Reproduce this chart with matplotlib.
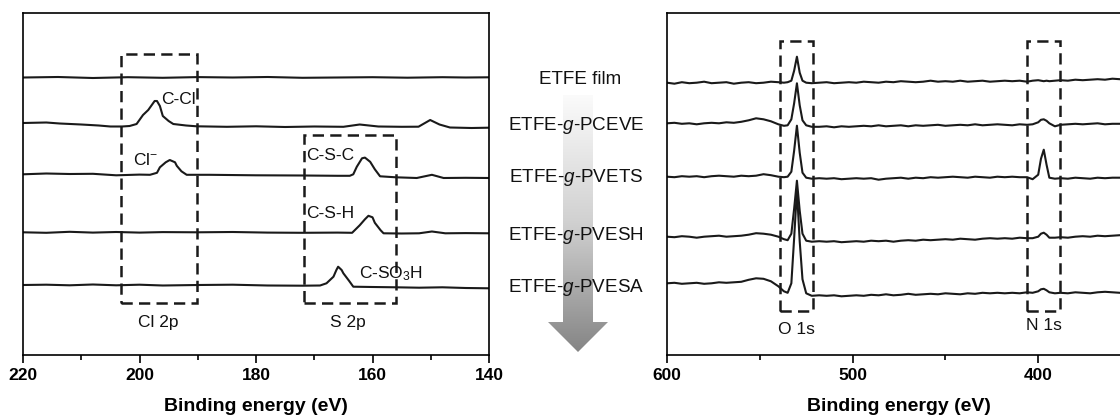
import numpy as np
import matplotlib.pyplot as plt
from matplotlib.patches import Polygon, Rectangle
from matplotlib.colors import LinearSegmentedColormap
from matplotlib.ticker import MultipleLocator

plt.rcParams['font.family'] = ['Liberation Sans', 'DejaVu Sans']
plt.rcParams['mathtext.fontset'] = 'custom'
plt.rcParams['mathtext.rm'] = 'Liberation Sans'
plt.rcParams['mathtext.it'] = 'Liberation Sans:italic'
plt.rcParams['mathtext.bf'] = 'Liberation Sans:bold'

# sample names (top to bottom)
samples = ['ETFE film', r'ETFE-$\mathit{g}$-PCEVE', r'ETFE-$\mathit{g}$-PVETS',
           r'ETFE-$\mathit{g}$-PVESH', r'ETFE-$\mathit{g}$-PVESA']

# ---- Cl 2p / S 2p region (left panel), stacked intensity (a.u.) ----
offsets_left = [277.5, 232, 180.7, 122.7, 70]

e_film = [220, 214, 208, 202, 196, 190, 184, 178, 172, 166, 160, 154, 148, 144, 140]
i_film = [0, 0.5, -0.5, 0.3, -0.3, 0.4, 0, 0.5, -0.3, 0, 0.3, -0.2, 0.3, 0, 0.2]

e_pceve = [220, 216, 213.7, 210, 207, 205, 203, 201.7, 200.5, 199.4, 198.5, 197.4, 197,
           196.5, 196, 195, 194.2, 192, 190.2, 185, 180, 175, 170, 165, 162.2, 159,
           155, 152.1, 150.1, 148.5, 146.7, 143, 140]
i_pceve = [0, 0.5, -0.5, -1.5, -2.5, -3.5, -3.5, -3, -1, 8, 13, 22, 22,
           17, 7, 2, -1, -2.5, -3.3, -3.8, -3.3, -4, -3.5, -3.8, -1.5, -3.5,
           -3.8, -3.7, 3, -1.5, -4.5, -5, -4.7]

e_pvets = [220, 216, 212, 208, 204, 200, 198.2, 197, 196.5, 195.5, 194.8, 193.9, 193.6,
           192.8, 191.9, 188, 180, 172, 166, 163.9, 163.3, 162.7, 161.8, 161.3, 160.4,
           159.6, 158.7, 156, 152.4, 149.8, 147.8, 144, 140]
i_pvets = [0, 0.8, 0.3, 0.5, -1, -0.3, -0.5, 1.5, 7, 12, 14.3, 12, 8.5,
           3, -0.5, -0.5, -1, -1.2, -1.5, -1.5, 0, 7.5, 16, 16.7, 12.5,
           5, -2, -3, -3.7, -0.5, -3.7, -3.5, -3.7]

e_pvesh = [220, 216, 212, 208, 204, 200, 196, 190, 184, 178, 172, 166, 163.5, 162.2,
           161.3, 160.7, 160, 159.6, 158.6, 158.1, 155, 152, 149.8, 147.5, 144, 140]
i_pvesh = [0, -0.5, 0.5, -0.3, 0.3, -0.3, 0.2, 0, 0.3, -0.3, -0.5, -0.3, -0.5, 7,
           13, 16.5, 15, 9.5, 2, -1, -1.2, -1, 0.8, -1, -0.8, -1]

e_pvesa = [220, 216, 212, 208, 204, 200, 196, 190, 184, 178, 172, 169, 167.9, 166.7,
           166.2, 165.9, 165.3, 165, 164, 163.3, 160, 156, 152, 148, 144, 140]
i_pvesa = [0, 0.3, -0.3, 0.5, -0.3, 0.3, -0.5, 0, 0.3, -0.5, -0.7, -0.5, 1.7, 8.3,
           15, 18.3, 15, 11.7, 4, -1.7, -2, -2.3, -2.7, -2.3, -3, -3.3]

left_e = [e_film, e_pceve, e_pvets, e_pvesh, e_pvesa]
left_i = [i_film, i_pceve, i_pvets, i_pvesh, i_pvesa]

# ---- O 1s / N 1s region (right panel) ----
offsets_right = [272.3, 231.7, 178.3, 118.3, 71.7]

e_right = [600, 596, 592, 588, 584, 580, 576, 572, 568, 564,
           560, 556, 552, 548, 544, 540, 537, 535, 533, 531.5,
           530, 528.5, 527, 525, 522, 518, 514, 510, 506, 502,
           498, 494, 490, 486, 482, 478, 474, 470, 466, 462,
           458, 454, 450, 446, 442, 438, 434, 430, 426, 422,
           418, 414, 410, 406, 403, 400, 398.5, 397, 395.5, 394,
           391, 388, 384, 380, 376, 372, 368, 364, 360, 356]

r_film = [0, -1, 0.5, -0.5, 0, 1, -0.5, 0, 0.5, -1,
          0, 0.5, -0.5, 0, 1, 0.5, 0, 0.5, 2, 12,
          26, 10, 2, 0, -0.5, 0, 0.5, -0.5, 0, 0.5,
          0, 1, 0.5, 0, 1, 0.5, 1.5, 1, 0.5, 1,
          2, 1, 1.5, 1, 2, 1, 1.5, 2, 1, 1.5,
          2, 1.5, 2, 1, 2, 2.5, 2, 1.5, 2, 1.5,
          2, 2.5, 2, 3, 2.5, 3, 3.5, 3, 4, 3.5]
r_pceve = [0, 0.5, -0.5, 0, -1, 0, 0.5, 0, 1, 0.5,
           1.5, 3, 5, 4, 2, -1, -2.5, -2, 4, 20,
           40, 18, 3, -2, -3.5, -3.5, -3, -4, -3, -3.5,
           -3, -2.5, -3, -2, -3, -2.5, -2, -3, -2, -2.5,
           -2, -1.5, -2.5, -2, -1.5, -2, -1, -2, -1.5, -1,
           -1.5, -2, -1, -1.5, -1, 1, 3.5, 4, 2.5, 0,
           -3, -1.5, -1, -0.5, -1, -0.5, 0, -1, -0.5, -0.5]
r_pvets = [0, -0.5, 0.5, 0, 0.5, -0.5, 0.5, 1, 0.5, 0,
           1, 0.5, 1, 2.5, 1.5, 0, -0.5, 0, 5, 26,
           51, 24, 4, -1, -2, -1.5, -2, -1.5, -2.5, -2,
           -1.5, -2, -1.5, -3, -2, -1.5, -1, -2, -1, -1.5,
           -0.5, -1, -0.5, 0, -0.5, -1, 0, -0.5, -1, 0,
           -0.5, 0, -0.5, -0.5, -2.5, 2, 18, 27, 12, -1,
           -2, -1.5, -2, -1, -1.5, -2, -1, -1.5, -1, -1]
r_pvesh = [0, -0.5, 0.5, 0, -1, 0, 0.5, 1, 0, 0.5,
           1, 2, 3.5, 3, 2, 0, -2.5, -3.5, 3, 28,
           56, 26, 3, -4, -5, -4.5, -5, -4.5, -5.5, -5,
           -4.5, -5, -4, -4.5, -4, -5, -4, -3.5, -4, -3,
           -3.5, -3, -2.5, -3, -2, -2.5, -3, -2, -1.5, -2,
           -1.5, -2, -1, -1.5, -1.5, 0, 3, 4, 2, -1,
           -1, -0.5, -1, 0, 0.5, 0, 1, 0.5, 1, 1.5]
r_pvesa = [0, 0.5, -0.5, 0, 0.5, -0.5, 0, 1, 0.5, 1,
           1.5, 3.5, 5, 4.5, 2, -3, -8, -9.5, 0, 45,
           93, 42, 4, -10, -12.5, -12, -12.5, -12, -13, -12.5,
           -12, -12.5, -11.5, -12, -11, -12, -11.5, -10.5, -11.5, -11,
           -10.5, -11, -10, -10.5, -11, -10, -10.5, -9.5, -10, -9.5,
           -10, -9.5, -10, -9, -9.5, -8, -6, -5.5, -7, -9,
           -10, -9.5, -10, -9, -9.5, -10, -9, -8.5, -9, -9.5]

right_i = [r_film, r_pceve, r_pvets, r_pvesh, r_pvesa]

W, H = 1120, 416
fig = plt.figure(figsize=(W / 100, H / 100), dpi=100)


def px_axes(x0, y0, x1, y1):
    return fig.add_axes([x0 / W, 1 - y1 / H, (x1 - x0) / W, (y1 - y0) / H])


# overlay for the middle labels and the arrow
ov = fig.add_axes([0, 0, 1, 1])
ov.patch.set_visible(False)
grad = np.linspace(0, 1, 256).reshape(-1, 1)
cmap = LinearSegmentedColormap.from_list('arrow', ['#fbfbfb', '#d0d0d0', '#858585'])
im = ov.imshow(grad, cmap=cmap, extent=[548, 608, 352, 95], aspect='auto')
arrow = Polygon([(563, 95), (593, 95), (593, 322), (608, 322), (578, 352),
                 (548, 322), (563, 322)], closed=True, fc='none', ec='none')
ov.add_patch(arrow)
im.set_clip_path(arrow)
ov.set_xlim(0, W)
ov.set_ylim(H, 0)
ov.axis('off')

label_x = [580, 576, 576, 576, 576]
label_y = [80, 125, 178, 235, 288]
for name, lx, ly in zip(samples, label_x, label_y):
    ov.text(lx, ly, name, ha='center', va='center', fontsize=13.6, color='#111111')

line_kw = dict(color='#1a1a1a', lw=1.5)
box_kw = dict(fill=False, ec='#1a1a1a', lw=1.8, ls=(0, (4.5, 2.5)))


def style_axes(ax, major, minor):
    ax.set_ylim(0, 342)
    ax.set_yticks([])
    ax.xaxis.set_major_locator(MultipleLocator(major))
    ax.xaxis.set_minor_locator(MultipleLocator(minor))
    ax.tick_params(axis='x', which='major', direction='out', length=6, width=1.2, pad=3,
                   labelsize=12.5)
    ax.tick_params(axis='x', which='minor', direction='out', length=3.5, width=1.2)
    for lab in ax.get_xticklabels():
        lab.set_fontweight('bold')
    for sp in ax.spines.values():
        sp.set_linewidth(1.2)
    ax.set_xlabel('Binding energy (eV)', fontsize=14, fontweight='bold', labelpad=11)


# left panel: Cl 2p and S 2p
ax1 = px_axes(23, 13, 489, 355)
for e, i, off in zip(left_e, left_i, offsets_left):
    ax1.plot(e, np.array(i) + off, **line_kw)
ax1.set_xlim(220, 140)
style_axes(ax1, 20, 10)
ax1.add_patch(Rectangle((203.1, 52), 190.2 - 203.1, 249, **box_kw))
ax1.add_patch(Rectangle((171.8, 52), 156 - 171.8, 168, **box_kw))
txt = dict(fontsize=12.5, va='center', color='#111111')
ax1.text(196.3, 255, 'C-Cl', ha='left', **txt)
ax1.text(201.2, 195, r'Cl$^{-}$', ha='left', **txt)
ax1.text(171.4, 199, 'C-S-C', ha='left', **txt)
ax1.text(171.4, 142, 'C-S-H', ha='left', **txt)
ax1.text(162.3, 81, r'C-SO$_3$H', ha='left', **txt)
ax1.text(196.8, 32, 'Cl 2p', ha='center', **txt)
ax1.text(164.2, 32, 'S 2p', ha='center', **txt)

# right panel: O 1s and N 1s (runs past the right edge of the figure)
ax2 = px_axes(667, 13, 1131, 355)
for i, off in zip(right_i, offsets_right):
    ax2.plot(e_right, np.array(i) + off, **line_kw)
ax2.set_xlim(600, 350)
style_axes(ax2, 100, 50)
ax2.add_patch(Rectangle((539.1, 44), 521.2 - 539.1, 270, **box_kw))
ax2.add_patch(Rectangle((405.8, 44), 388.4 - 405.8, 270, **box_kw))
ax2.text(530.2, 26, 'O 1s', ha='center', **txt)
ax2.text(396.8, 30, 'N 1s', ha='center', **txt)

fig.savefig('out.png', dpi=100)
